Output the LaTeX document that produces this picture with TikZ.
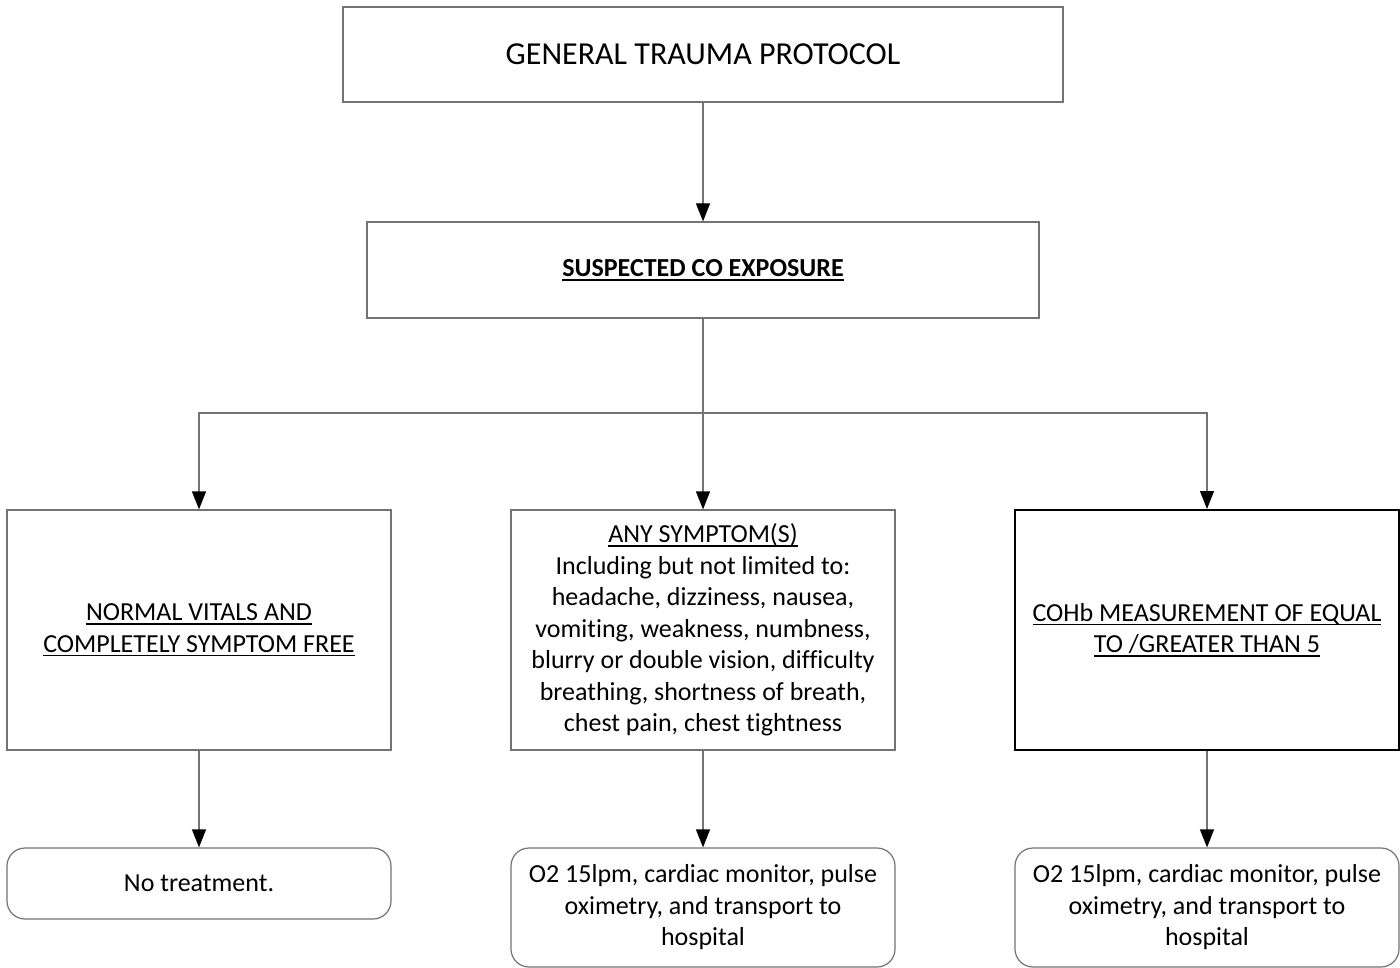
\documentclass[tikz,border=0pt]{standalone}
\usepackage{fontspec}
\setmainfont{Carlito}[Ligatures={NoCommon}]
\usetikzlibrary{arrows.meta}
\newcommand\myul[1]{\setbox0\hbox{#1}\rlap{\raisebox{-4pt}{\rule{\wd0}{1.6pt}}}\box0}
\begin{document}
\begin{tikzpicture}[x=1pt,y=-1pt,
  box/.style={draw=black!55,line width=1.2pt,fill=white,inner sep=0pt,align=center,
    font=\fontsize{26}{31.5}\selectfont},
  endbox/.style={box,rounded corners=18pt},
  arr/.style={draw=black!55,line width=1.2pt,-{Triangle[length=18pt,width=14pt,fill=black,color=black]}}]
\useasboundingbox (0,0) rectangle (1400,968);
\node[box,minimum width=720pt,minimum height=95pt,font=\fontsize{32}{36}\selectfont] (top) at (703,54.5) {GENERAL TRAUMA PROTOCOL};
\node[box,minimum width=672pt,minimum height=96pt,font=\fontsize{26}{30}\selectfont\bfseries] (co) at (703,270) {\myul{SUSPECTED CO EXPOSURE}};
\node[box,minimum width=384pt,minimum height=240pt] (left) at (199,630) {\myul{NORMAL VITALS AND}\\\myul{COMPLETELY SYMPTOM FREE}};
\node[box,minimum width=384pt,minimum height=240pt] (mid) at (703,630) {\myul{ANY SYMPTOM(S)}\\Including but not limited to:\\headache, dizziness, nausea,\\vomiting, weakness, numbness,\\blurry or double vision, difficulty\\breathing, shortness of breath,\\chest pain, chest tightness};
\node[box,draw=black,line width=2pt,minimum width=384pt,minimum height=240pt] (right) at (1207,630) {\myul{COHb MEASUREMENT OF EQUAL}\\\myul{TO /GREATER THAN 5}};
\node[endbox,minimum width=384pt,minimum height=71pt] (bl) at (199,883.5) {No treatment.};
\node[endbox,minimum width=384pt,minimum height=119pt] (bm) at (703,907.5) {O2 15lpm, cardiac monitor, pulse\\oximetry, and transport to\\hospital};
\node[endbox,minimum width=384pt,minimum height=119pt] (br) at (1207,907.5) {O2 15lpm, cardiac monitor, pulse\\oximetry, and transport to\\hospital};
\coordinate (bus) at (703,413);
\draw[arr] (top.south) -- (co.north);
\draw[arr] (co.south) -- (mid.north);
\draw[arr] (bus) -| (left.north);
\draw[arr] (bus) -| (right.north);
\draw[arr] (left.south) -- (bl.north);
\draw[arr] (mid.south) -- (bm.north);
\draw[arr] (right.south) -- (br.north);
\end{tikzpicture}
\end{document}
